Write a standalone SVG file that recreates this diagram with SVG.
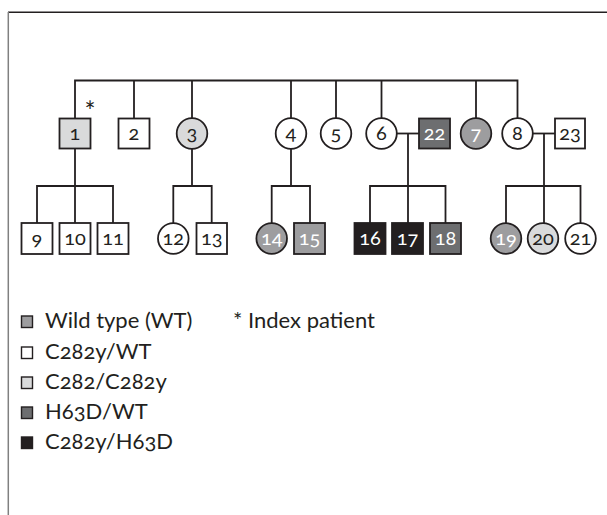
<svg xmlns="http://www.w3.org/2000/svg" width="607" height="515" viewBox="0 0 607 515">
<style>
.ln{stroke:#231f20;stroke-width:1.8;fill:none}
.nd{stroke:#231f20;stroke-width:1.8}
.w{fill:#ffffff}
.lg{fill:#d9dadb}
.mg{fill:#9d9d9f}
.dg{fill:#6d6e70}
.bk{fill:#231f20}
.t{font-family:Lato,"Open Sans","Liberation Sans",sans-serif;font-size:20px;text-anchor:middle;fill:#231f20;font-variant-numeric:oldstyle-nums}
.tw{fill:#ffffff}
.lt{font-family:Lato,"Open Sans","Liberation Sans",sans-serif;font-size:22px;fill:#231f20;font-variant-numeric:oldstyle-nums}
</style>
<rect x="0" y="0" width="607" height="515" fill="#ffffff"/>
<line x1="8" y1="12.3" x2="607" y2="12.3" stroke="#231f20" stroke-width="1.5"/>
<line x1="8.3" y1="12" x2="8.3" y2="515" stroke="#808080" stroke-width="1.5"/>
<g id="connectors">
<polyline class="ln" points="75,118.5 75,80.5 517.5,80.5 517.5,118.5"/>
<line class="ln" x1="134" y1="80.5" x2="134" y2="118.5"/>
<line class="ln" x1="192" y1="80.5" x2="192" y2="118.5"/>
<line class="ln" x1="291" y1="80.5" x2="291" y2="118.5"/>
<line class="ln" x1="336" y1="80.5" x2="336" y2="118.5"/>
<line class="ln" x1="381.5" y1="80.5" x2="381.5" y2="118.5"/>
<line class="ln" x1="476" y1="80.5" x2="476" y2="118.5"/>
<line class="ln" x1="396.5" y1="133.5" x2="419" y2="133.5"/>
<line class="ln" x1="532.5" y1="133.5" x2="555" y2="133.5"/>
<line class="ln" x1="75" y1="148.5" x2="75" y2="186"/>
<polyline class="ln" points="37,223 37,186 113,186 113,223"/>
<line class="ln" x1="75" y1="186" x2="75" y2="223"/>
<line class="ln" x1="192" y1="148.5" x2="192" y2="186"/>
<polyline class="ln" points="173.3,223 173.3,186 211.7,186 211.7,223"/>
<line class="ln" x1="291" y1="148.5" x2="291" y2="186"/>
<polyline class="ln" points="271.7,223 271.7,186 310,186 310,223"/>
<line class="ln" x1="408" y1="133.5" x2="408" y2="223"/>
<polyline class="ln" points="370,223 370,186 445.5,186 445.5,223"/>
<line class="ln" x1="544" y1="133.5" x2="544" y2="223"/>
<polyline class="ln" points="506,223 506,186 580.5,186 580.5,223"/>
</g>
<g id="n1"><rect class="nd lg" x="59.5" y="118.5" width="31" height="30"/><text class="t" x="75" y="140">1</text></g>
<text x="90" y="121" style="font-family:Lato,'Liberation Sans',sans-serif;font-size:26px;text-anchor:middle;fill:#231f20">*</text>
<g id="n2"><rect class="nd w" x="118.5" y="118.5" width="31" height="30"/><text class="t" x="134" y="140">2</text></g>
<g id="n3"><circle class="nd lg" cx="192" cy="133.5" r="15.3"/><text class="t" x="192" y="140">3</text></g>
<g id="n4"><circle class="nd w" cx="291" cy="133.5" r="15.3"/><text class="t" x="291" y="140">4</text></g>
<g id="n5"><circle class="nd w" cx="336" cy="133.5" r="15.3"/><text class="t" x="336" y="140">5</text></g>
<g id="n6"><circle class="nd w" cx="381.5" cy="133.5" r="15.3"/><text class="t" x="381.5" y="140">6</text></g>
<g id="n22"><rect class="nd dg" x="419" y="118.5" width="31" height="30"/><text class="t tw" x="434.5" y="140">22</text></g>
<g id="n7"><circle class="nd mg" cx="476" cy="133.5" r="15.3"/><text class="t tw" x="476" y="140">7</text></g>
<g id="n8"><circle class="nd w" cx="517.5" cy="133.5" r="15.3"/><text class="t" x="517.5" y="140">8</text></g>
<g id="n23"><rect class="nd w" x="555" y="118.5" width="30" height="30"/><text class="t" x="570" y="140">23</text></g>
<g id="n9"><rect class="nd w" x="21.5" y="223" width="31" height="31"/><text class="t" x="37" y="245">9</text></g>
<g id="n10"><rect class="nd w" x="59.5" y="223" width="31" height="31"/><text class="t" x="75" y="245">10</text></g>
<g id="n11"><rect class="nd w" x="97.5" y="223" width="31" height="31"/><text class="t" x="113" y="245">11</text></g>
<g id="n12"><circle class="nd w" cx="173.3" cy="238.5" r="15.3"/><text class="t" x="173.3" y="245">12</text></g>
<g id="n13"><rect class="nd w" x="196.5" y="223" width="30.5" height="31"/><text class="t" x="211.7" y="245">13</text></g>
<g id="n14"><circle class="nd mg" cx="271.7" cy="238.5" r="15.3"/><text class="t tw" x="271.7" y="245">14</text></g>
<g id="n15"><rect class="nd mg" x="294" y="223" width="31" height="31"/><text class="t tw" x="309.5" y="245">15</text></g>
<g id="n16"><rect class="nd bk" x="354.5" y="223" width="31" height="31"/><text class="t tw" x="370" y="245">16</text></g>
<g id="n17"><rect class="nd bk" x="392" y="223" width="31" height="31"/><text class="t tw" x="407.5" y="245">17</text></g>
<g id="n18"><rect class="nd dg" x="430" y="223" width="31" height="31"/><text class="t tw" x="445.5" y="245">18</text></g>
<g id="n19"><circle class="nd mg" cx="506" cy="238.5" r="15.3"/><text class="t tw" x="506" y="245">19</text></g>
<g id="n20"><circle class="nd lg" cx="543" cy="238.5" r="15.3"/><text class="t" x="543" y="245">20</text></g>
<g id="n21"><circle class="nd w" cx="580.5" cy="238.5" r="15.3"/><text class="t" x="580.5" y="245">21</text></g>
<g id="legend">
<rect class="nd mg" x="21.5" y="316" width="11" height="11.5" style="stroke-width:1.4"/>
<text class="lt" x="45" y="328">Wild type (WT)</text>
<text class="lt" x="233" y="328">* Index patient</text>
<rect class="nd w" x="21.5" y="347" width="11" height="11.5" style="stroke-width:1.4"/>
<text class="lt" x="45" y="359">C282y/WT</text>
<rect class="nd lg" x="21.5" y="377" width="11" height="11.5" style="stroke-width:1.4"/>
<text class="lt" x="45" y="389">C282/C282y</text>
<rect class="nd dg" x="21.5" y="407" width="11" height="11.5" style="stroke-width:1.4"/>
<text class="lt" x="45" y="419">H63D/WT</text>
<rect class="nd bk" x="21.5" y="437" width="11" height="11.5" style="stroke-width:1.4"/>
<text class="lt" x="45" y="449">C282y/H63D</text>
</g>
</svg>
